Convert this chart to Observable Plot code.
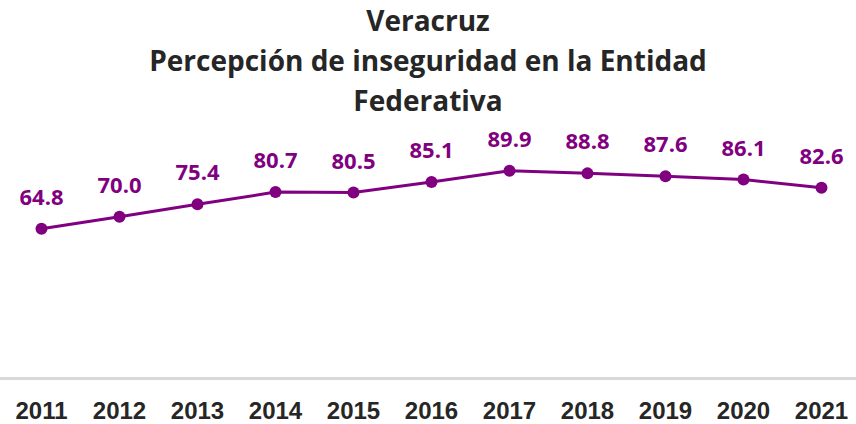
<!DOCTYPE html>
<html>
<head>
<meta charset="utf-8">
<script src="https://cdn.jsdelivr.net/npm/d3@7"></script>
<script src="https://cdn.jsdelivr.net/npm/@observablehq/plot@0.6"></script>
<style>
  html, body { margin: 0; padding: 0; background: #fff; }
  #title { width: 856px; text-align: center; font-family: "Open Sans", sans-serif; font-weight: 700; font-size: 28px; line-height: 40px; color: #262626; height: 120px; }
</style>
</head>
<body>
<div id="title">Veracruz<br>Percepción de inseguridad en la Entidad<br>Federativa</div>
<div id="chart"></div>
<script>
const years = ["2011","2012","2013","2014","2015","2016","2017","2018","2019","2020","2021"];
const values = [64.8, 70.0, 75.4, 80.7, 80.5, 85.1, 89.9, 88.8, 87.6, 86.1, 82.6];

const data = years.map((y, i) => ({year: y, value: values[i]}));
const purple = "#800080";

const chart = Plot.plot({
  width: 856,
  height: 304,
  marginLeft: 0,
  marginRight: 0,
  marginTop: 27,
  marginBottom: 46,
  x: {type: "point", domain: years, range: [39, 823], padding: 0, label: null},
  y: {domain: [0, 100], axis: null},
  style: {background: "#fff"},
  marks: [
    Plot.ruleY([0], {stroke: "#d9d9d9", strokeWidth: 3}),
    Plot.axisX({tickSize: 0, tickPadding: 23, fontSize: 24, fontWeight: 700, fontFamily: "Liberation Sans, Arial, sans-serif", fill: "#262626", label: null}),
    Plot.line(data, {x: "year", y: "value", stroke: purple, strokeWidth: 3}),
    Plot.dot(data, {x: "year", y: "value", r: 6, fill: purple, stroke: "none"}),
    Plot.text(data, {x: "year", y: "value", text: d => d.value.toFixed(1), dy: -31, fill: purple, fontSize: 22, fontWeight: 700, fontFamily: "Open Sans, sans-serif"})
  ]
});
document.getElementById("chart").appendChild(chart);
</script>
</body>
</html>
